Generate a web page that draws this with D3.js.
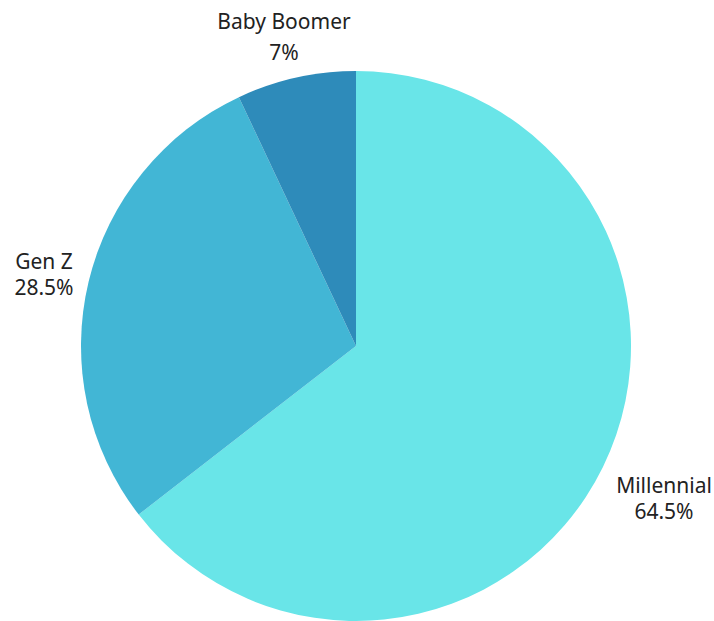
<!DOCTYPE html>
<html>
<head>
<meta charset="utf-8">
<script src="https://cdn.jsdelivr.net/npm/d3@7"></script>
<style>
  html, body { margin: 0; padding: 0; background: #ffffff; }
  svg { display: block; }
  text { font-family: "Noto Sans", "Open Sans", sans-serif; font-size: 21px; fill: #222222; }
</style>
</head>
<body>
<svg id="chart" width="714" height="621"></svg>
<script>
// Share of respondents by generation (percent)
const categories = ["Millennial", "Gen Z", "Baby Boomer"];
const values = [64.5, 28.5, 7];
const valueLabels = ["64.5%", "28.5%", "7%"];
const colors = ["#69e5e8", "#42b6d5", "#2e8bba"];

const width = 714, height = 621;
const cx = 356, cy = 346, radius = 275;

const svg = d3.select("#chart");
const g = svg.append("g").attr("transform", `translate(${cx},${cy})`);

const data = categories.map((c, i) => ({ name: c, value: values[i], label: valueLabels[i], color: colors[i] }));

const pie = d3.pie().value(d => d.value).sort(null);
const arc = d3.arc().innerRadius(0).outerRadius(radius);
const arcs = pie(data);

g.selectAll("path.slice")
  .data(arcs)
  .join("path")
  .attr("class", "slice")
  .attr("d", arc)
  .attr("fill", d => d.data.color);

// Label anchors: first-line baseline and line gap, relative to the pie centre
const labelLayout = {
  "Millennial":  { x: 308, y: 147, gap: 26 },
  "Gen Z":       { x: -312, y: -77, gap: 26 },
  "Baby Boomer": { x: -72, y: -317, gap: 31 }
};

const labels = g.selectAll("text.lbl")
  .data(arcs)
  .join("text")
  .attr("class", "lbl")
  .attr("text-anchor", "middle")
  .attr("transform", d => {
    const p = labelLayout[d.data.name];
    return `translate(${p.x},${p.y})`;
  });

labels.append("tspan").attr("x", 0).attr("y", 0).text(d => d.data.name);
labels.append("tspan").attr("x", 0).attr("y", d => labelLayout[d.data.name].gap).text(d => d.data.label);
</script>
</body>
</html>
